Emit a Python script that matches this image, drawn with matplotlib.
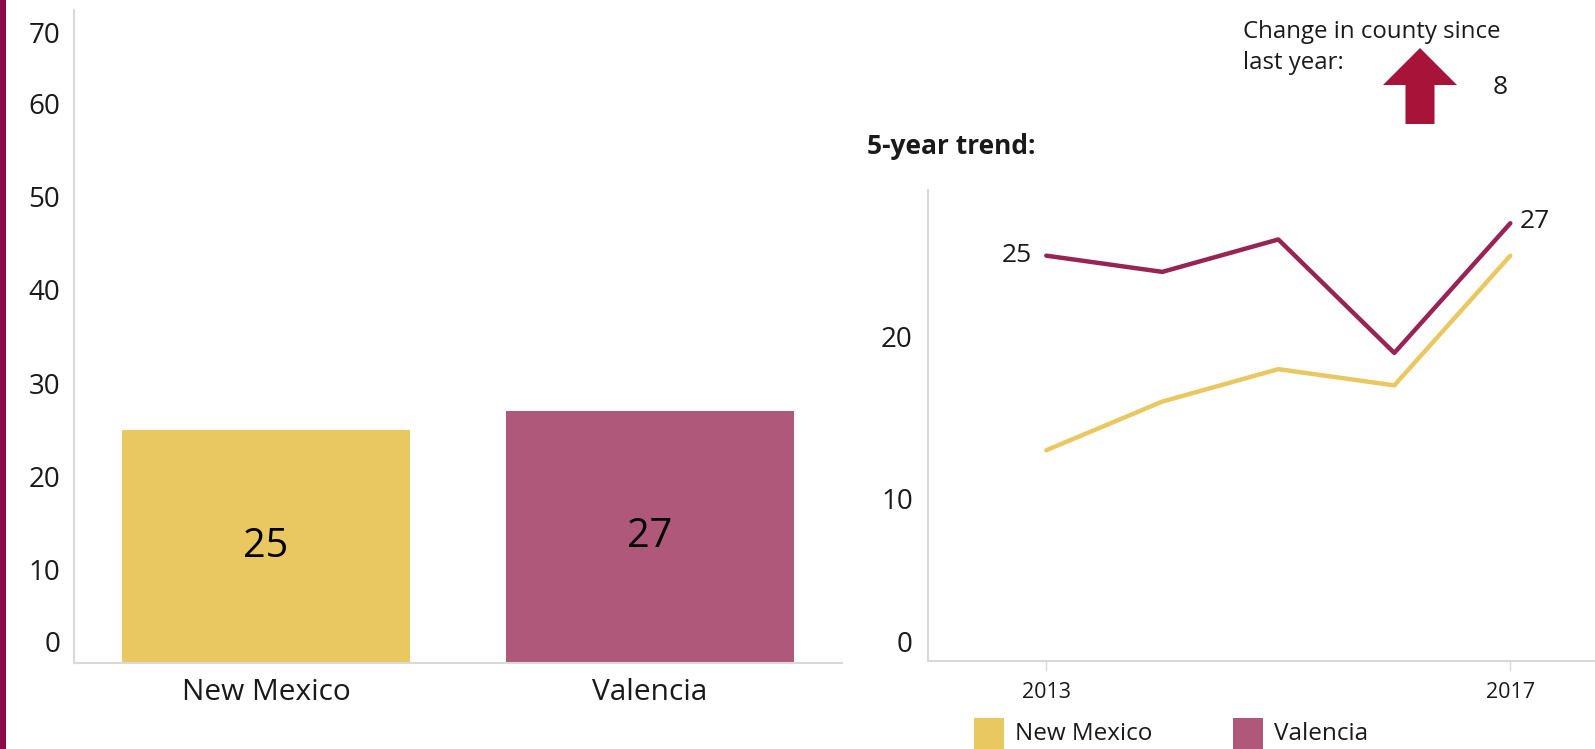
import matplotlib
matplotlib.use('Agg')
import matplotlib.pyplot as plt
from matplotlib.patches import Rectangle, FancyArrow
from matplotlib.transforms import ScaledTranslation

plt.rcParams['font.family'] = ['Open Sans', 'DejaVu Sans']

# data
regions = ['New Mexico', 'Valencia']
current_values = [25, 27]
years = [2013, 2014, 2015, 2016, 2017]
nm_trend = [13, 16, 18, 17, 25]
valencia_trend = [25, 24, 26, 19, 27]
change_since_last_year = 8

yellow = '#E9C862'
pink = '#AF587A'
maroon = '#982454'
spine_gray = '#D9D9D9'
text_col = '#1A1A1A'

fig = plt.figure(figsize=(15.95, 7.49), dpi=100)

# left accent strip
fig.add_artist(Rectangle((0, 0), 6 / 1595, 1, transform=fig.transFigure,
                         color='#8B0A45', lw=0))

# bar chart
ax1 = fig.add_axes([74 / 1595, 1 - 663 / 749, 768 / 1595, 653 / 749])
xs = range(len(regions))
ax1.bar(xs, current_values, width=0.75, color=[yellow, pink])
for x, v in zip(xs, current_values):
    ax1.text(x, v / 2, str(v), ha='center', va='center', fontsize=28.5, color='black')
ax1.set_xlim(-0.5, 1.5)
ax1.set_ylim(0, 70)
ax1.set_xticks(list(xs))
ax1.set_xticklabels(regions, fontsize=21.5, color=text_col)
ax1.set_yticks(range(0, 80, 10))
ax1.tick_params(axis='both', length=0)
ax1.tick_params(axis='y', pad=10, labelsize=20, labelcolor=text_col)
ax1.tick_params(axis='x', pad=11)
for s in ['top', 'right']:
    ax1.spines[s].set_visible(False)
for s in ['left', 'bottom']:
    ax1.spines[s].set_color(spine_gray)
    ax1.spines[s].set_linewidth(1.5)
labs = ax1.get_yticklabels()
labs[0].set_transform(labs[0].get_transform() + ScaledTranslation(0, 0.21, fig.dpi_scale_trans))
labs[-1].set_transform(labs[-1].get_transform() + ScaledTranslation(0, -0.22, fig.dpi_scale_trans))

# trend chart
ax2 = fig.add_axes([928 / 1595, 1 - 661 / 749, 667 / 1595, 471 / 749])
ax2.plot(years, nm_trend, color=yellow, lw=3.2, solid_capstyle='round')
ax2.plot(years, valencia_trend, color=maroon, lw=3.2, solid_capstyle='round')
ax2.annotate(str(valencia_trend[0]), (years[0], valencia_trend[0]), xytext=(-10, 0),
             textcoords='offset points', ha='right', va='center', fontsize=19, color=text_col)
ax2.annotate(str(valencia_trend[-1]), (years[-1], valencia_trend[-1]), xytext=(7, 1.5),
             textcoords='offset points', ha='left', va='center', fontsize=19, color=text_col)
ax2.set_xlim(2011.98, 2017.73)
ax2.set_ylim(0, 29.05)
ax2.set_xticks([years[0], years[-1]])
ax2.set_xticklabels([str(years[0]), str(years[-1])], fontsize=15.5, color=text_col)
ax2.set_yticks([0, 10, 20])
ax2.tick_params(axis='y', length=0, pad=11, labelsize=20, labelcolor=text_col)
ax2.tick_params(axis='x', length=7, width=1, color=spine_gray, pad=8)
for s in ['top', 'right']:
    ax2.spines[s].set_visible(False)
for s in ['left', 'bottom']:
    ax2.spines[s].set_color(spine_gray)
    ax2.spines[s].set_linewidth(1.5)
lab0 = ax2.get_yticklabels()[0]
lab0.set_transform(lab0.get_transform() + ScaledTranslation(0, 0.20, fig.dpi_scale_trans))

fig.text(867 / 1595, 1 - 147 / 749, '5-year trend:', fontsize=19, fontweight='bold',
         ha='left', va='center', color=text_col)

# change indicator
fig.text(1243 / 1595, 1 - 32 / 749, 'Change in county since', fontsize=17.3,
         ha='left', va='center', color=text_col)
fig.text(1243 / 1595, 1 - 63 / 749, 'last year:', fontsize=17.3,
         ha='left', va='center', color=text_col)
fig.add_artist(FancyArrow(14.20, 6.25, 0, 0.76, width=0.29, head_width=0.74,
                          head_length=0.37, length_includes_head=True,
                          transform=fig.dpi_scale_trans, color='#A8133A', lw=0))
fig.text(1500 / 1595, 1 - 87 / 749, str(change_since_last_year), fontsize=19,
         ha='center', va='center', color=text_col)

# legend
for x0, name, col in [(974, regions[0], yellow), (1233, regions[1], pink)]:
    fig.add_artist(Rectangle((x0 / 1595, 0), 30 / 1595, 31 / 749,
                             transform=fig.transFigure, color=col, lw=0))
    fig.text((x0 + 41) / 1595, 1 - 734 / 749, name, fontsize=17.5,
             ha='left', va='center', color=text_col)

fig.savefig('out.png', dpi=100)
